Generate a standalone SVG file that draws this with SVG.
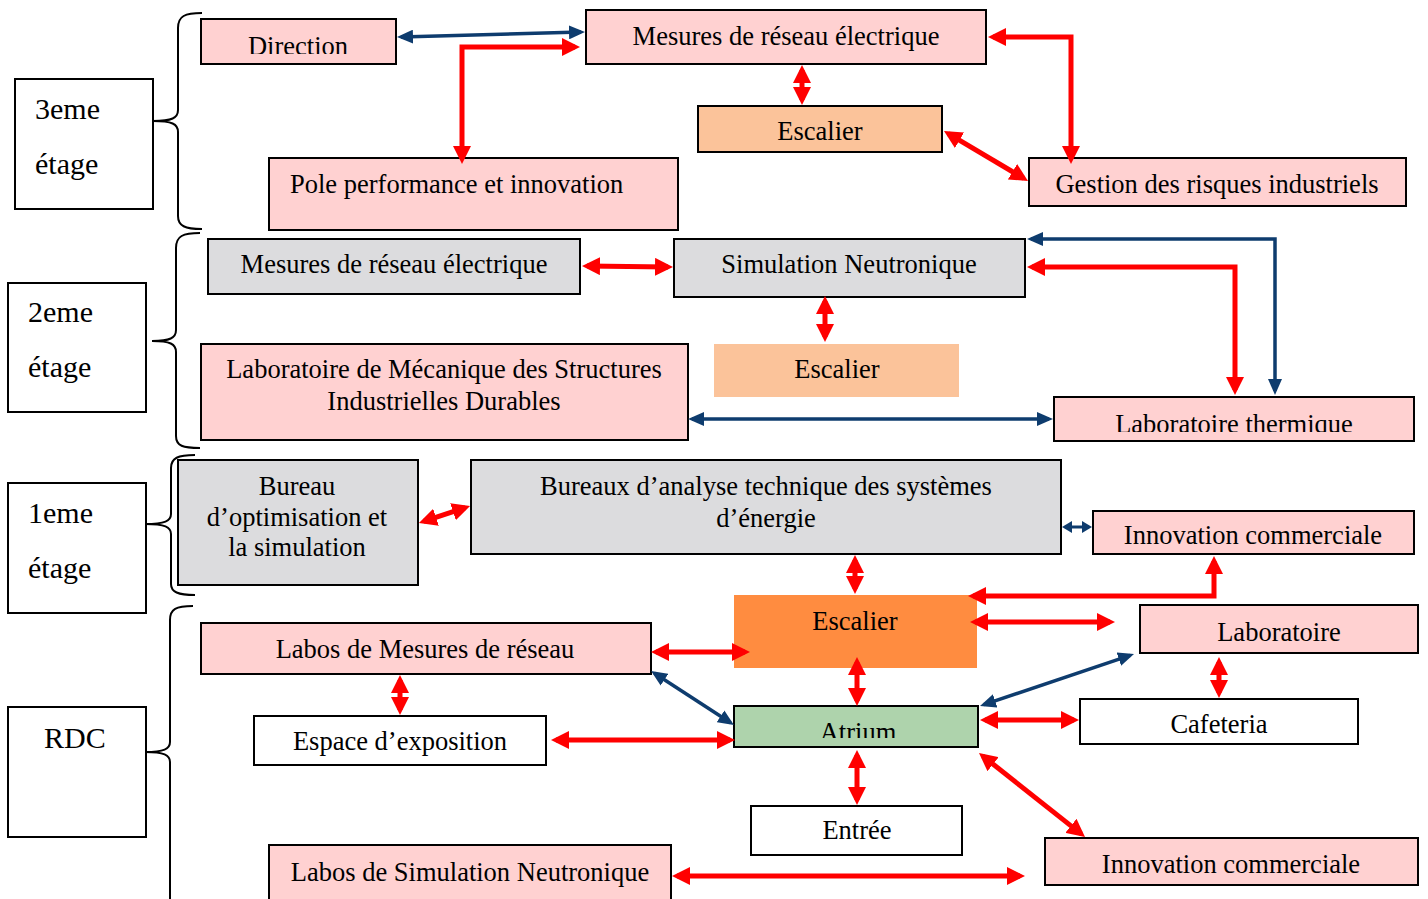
<svg xmlns="http://www.w3.org/2000/svg" width="1428" height="899" viewBox="0 0 1428 899">
  <style>
    text { font-family: "Liberation Serif", "Times New Roman", serif; font-size: 26.5px; fill: #000; text-anchor: middle; }
    .floor text { font-size: 30px; text-anchor: start; }
    .box { stroke: #000; stroke-width: 2; }
    .pink { fill: #FFD1D1; }
    .grey { fill: #DCDCDE; }
    .peach { fill: #FBC39A; }
    .orange { fill: #FF8C40; }
    .green { fill: #AED3AC; }
    .white { fill: #FFFFFF; }
    .brace { fill: none; stroke: #000; stroke-width: 2; }
    .red { fill: none; stroke: #FF0000; stroke-width: 5; marker-start: url(#headRed); marker-end: url(#headRed); }
    .blue { fill: none; stroke: #0E3C6E; stroke-width: 3.5; marker-start: url(#headBlue); marker-end: url(#headBlue); }
    .blue-short { fill: none; stroke: #0E3C6E; stroke-width: 3; marker-start: url(#headBlueSmall); marker-end: url(#headBlueSmall); }
  </style>
  <defs>
    <marker id="headRed" markerUnits="userSpaceOnUse" markerWidth="18" markerHeight="18" refX="13" refY="9" orient="auto-start-reverse">
      <path d="M0,0 L18,9 L0,18 z" fill="#FF0000"/>
    </marker>
    <marker id="headBlue" markerUnits="userSpaceOnUse" markerWidth="16" markerHeight="14" refX="12" refY="7" orient="auto-start-reverse">
      <path d="M0,0 L16,7 L0,14 z" fill="#0E3C6E"/>
    </marker>
    <marker id="headBlueSmall" markerUnits="userSpaceOnUse" markerWidth="10" markerHeight="12" refX="7" refY="6" orient="auto-start-reverse">
      <path d="M0,0 L10,6 L0,12 z" fill="#0E3C6E"/>
    </marker>
    <clipPath id="clipDirection"><rect x="200" y="18" width="198" height="36"/></clipPath>
    <clipPath id="clipThermique"><rect x="1053" y="396" width="362" height="36"/></clipPath>
    <clipPath id="clipAtrium"><rect x="733" y="705" width="246" height="33"/></clipPath>
  </defs>

  <rect width="1428" height="899" fill="#FFFFFF"/>

  <!-- floor labels -->
  <g id="floor-3" class="floor">
    <rect x="15" y="79" width="138" height="130" class="box white" stroke-width="1.5"/>
    <text x="35" y="119">3eme</text>
    <text x="35" y="174">étage</text>
  </g>
  <g id="floor-2" class="floor">
    <rect x="8" y="283" width="138" height="129" class="box white" stroke-width="1.5"/>
    <text x="28" y="322">2eme</text>
    <text x="28" y="377">étage</text>
  </g>
  <g id="floor-1" class="floor">
    <rect x="8" y="483" width="138" height="130" class="box white" stroke-width="1.5"/>
    <text x="28" y="523">1eme</text>
    <text x="28" y="578">étage</text>
  </g>
  <g id="floor-rdc" class="floor">
    <rect x="8" y="707" width="138" height="130" class="box white" stroke-width="1.5"/>
    <text x="44" y="748">RDC</text>
  </g>

  <!-- braces grouping each floor -->
  <g id="braces">
    <path class="brace" d="M202 13 C185 13 178 16 178 28 V110 C178 118 172 121 153 121 C172 121 178 124 178 132 V216 C178 226 185 229 202 229"/>
    <path class="brace" d="M200 233 C183 233 176 236 176 248 V330 C176 338 170 341 152 341 C170 341 176 344 176 352 V436 C176 446 183 448 200 448"/>
    <path class="brace" d="M195 455 C178 455 171 458 171 468 V514 C171 521 165 524 145 524 C165 524 171 527 171 534 V584 C171 592 178 595 195 595"/>
    <path class="brace" d="M193 606 C176 606 170 609 170 620 V742 C170 749 164 752 145 752 C164 752 170 755 170 762 V905"/>
  </g>

  <!-- 3eme étage -->
  <g id="direction">
    <rect x="201" y="19" width="195" height="45" class="box pink"/>
    <text x="298" y="55" clip-path="url(#clipDirection)">Direction</text>
  </g>
  <g id="mesures-3">
    <rect x="586" y="10" width="400" height="54" class="box pink"/>
    <text x="786" y="45">Mesures de réseau électrique</text>
  </g>
  <g id="escalier-3">
    <rect x="698" y="106" width="244" height="46" class="box peach"/>
    <text x="820" y="140">Escalier</text>
  </g>
  <g id="pole-performance">
    <rect x="269" y="158" width="409" height="72" class="box pink"/>
    <text x="290" y="193" style="text-anchor:start">Pole performance et innovation</text>
  </g>
  <g id="gestion-risques">
    <rect x="1029" y="158" width="377" height="48" class="box pink"/>
    <text x="1217" y="193">Gestion des risques industriels</text>
  </g>

  <!-- 2eme étage -->
  <g id="mesures-2">
    <rect x="208" y="239" width="372" height="55" class="box grey"/>
    <text x="394" y="273">Mesures de réseau électrique</text>
  </g>
  <g id="simulation-neutronique">
    <rect x="674" y="239" width="351" height="58" class="box grey"/>
    <text x="849" y="273">Simulation Neutronique</text>
  </g>
  <g id="escalier-2">
    <rect x="714" y="344" width="245" height="53" class="peach"/>
    <text x="837" y="378">Escalier</text>
  </g>
  <g id="labo-mecanique">
    <rect x="201" y="344" width="487" height="96" class="box pink"/>
    <text x="444" y="378">Laboratoire de Mécanique des Structures</text>
    <text x="444" y="410">Industrielles Durables</text>
  </g>
  <g id="labo-thermique">
    <rect x="1054" y="397" width="360" height="44" class="box pink"/>
    <text x="1234" y="433" clip-path="url(#clipThermique)">Laboratoire thermique</text>
  </g>

  <!-- 1eme étage -->
  <g id="bureau-optimisation">
    <rect x="178" y="460" width="240" height="125" class="box grey"/>
    <text x="297" y="495">Bureau</text>
    <text x="297" y="526">d’optimisation et</text>
    <text x="297" y="556">la simulation</text>
  </g>
  <g id="bureaux-analyse">
    <rect x="471" y="460" width="590" height="94" class="box grey"/>
    <text x="766" y="495">Bureaux d’analyse technique des systèmes</text>
    <text x="766" y="527">d’énergie</text>
  </g>
  <g id="innovation-1">
    <rect x="1093" y="511" width="321" height="43" class="box pink"/>
    <text x="1253" y="544">Innovation commerciale</text>
  </g>

  <!-- RDC -->
  <g id="escalier-rdc">
    <rect x="734" y="595" width="243" height="73" class="orange"/>
    <text x="855" y="630">Escalier</text>
  </g>
  <g id="labos-mesures">
    <rect x="201" y="623" width="450" height="51" class="box pink"/>
    <text x="425" y="658">Labos de Mesures de réseau</text>
  </g>
  <g id="laboratoire">
    <rect x="1140" y="605" width="278" height="48" class="box pink"/>
    <text x="1279" y="641">Laboratoire</text>
  </g>
  <g id="espace-exposition">
    <rect x="254" y="716" width="292" height="49" class="box white"/>
    <text x="400" y="750">Espace d’exposition</text>
  </g>
  <g id="atrium">
    <rect x="734" y="706" width="244" height="41" class="box green"/>
    <text x="858" y="741" clip-path="url(#clipAtrium)">Atrium</text>
  </g>
  <g id="cafeteria">
    <rect x="1080" y="699" width="278" height="45" class="box white"/>
    <text x="1219" y="733">Cafeteria</text>
  </g>
  <g id="entree">
    <rect x="751" y="806" width="211" height="49" class="box white"/>
    <text x="857" y="839">Entrée</text>
  </g>
  <g id="labos-simulation">
    <rect x="269" y="845" width="402" height="60" class="box pink"/>
    <text x="470" y="881">Labos de Simulation Neutronique</text>
  </g>
  <g id="innovation-rdc">
    <rect x="1045" y="838" width="373" height="47" class="box pink"/>
    <text x="1231" y="873">Innovation commerciale</text>
  </g>

  <!-- connectors -->
  <g id="connectors">
    <!-- 3eme -->
    <path class="blue" d="M401 37 L581 32"/>
    <path class="red" d="M462 159 V47 H575"/>
    <path class="red" d="M802 70 V100"/>
    <path class="red" d="M993 37 H1071 V159"/>
    <path class="red" d="M948.3 133.6 L1023.7 178.4"/>
    <!-- 2eme -->
    <path class="red" d="M587 266 L668 267"/>
    <path class="red" d="M825 301 V337"/>
    <path class="blue" d="M1031 239 H1275 V391"/>
    <path class="red" d="M1032 267 H1235 V390"/>
    <path class="blue" d="M692 419 H1049"/>
    <!-- 1eme -->
    <path class="red" d="M423.7 521.4 L465.3 507.6"/>
    <path class="blue-short" d="M1065 527 H1089"/>
    <path class="red" d="M855 560 V589"/>
    <!-- RDC -->
    <path class="red" d="M973 596 H1214 V561"/>
    <path class="red" d="M975 622 H1110"/>
    <path class="red" d="M656 652 H745"/>
    <path class="blue" d="M654.4 673.2 L730.6 722.8"/>
    <path class="red" d="M857 662 V701"/>
    <path class="blue" d="M983.8 704.7 L1130.2 655.3"/>
    <path class="red" d="M400 680 V710"/>
    <path class="red" d="M556 740 H730"/>
    <path class="red" d="M985 720 H1074"/>
    <path class="red" d="M1219 662 V693"/>
    <path class="red" d="M857 755 V800"/>
    <path class="red" d="M982.9 756.1 L1081.1 833.9"/>
    <path class="red" d="M677 876 H1020"/>
  </g>
</svg>
